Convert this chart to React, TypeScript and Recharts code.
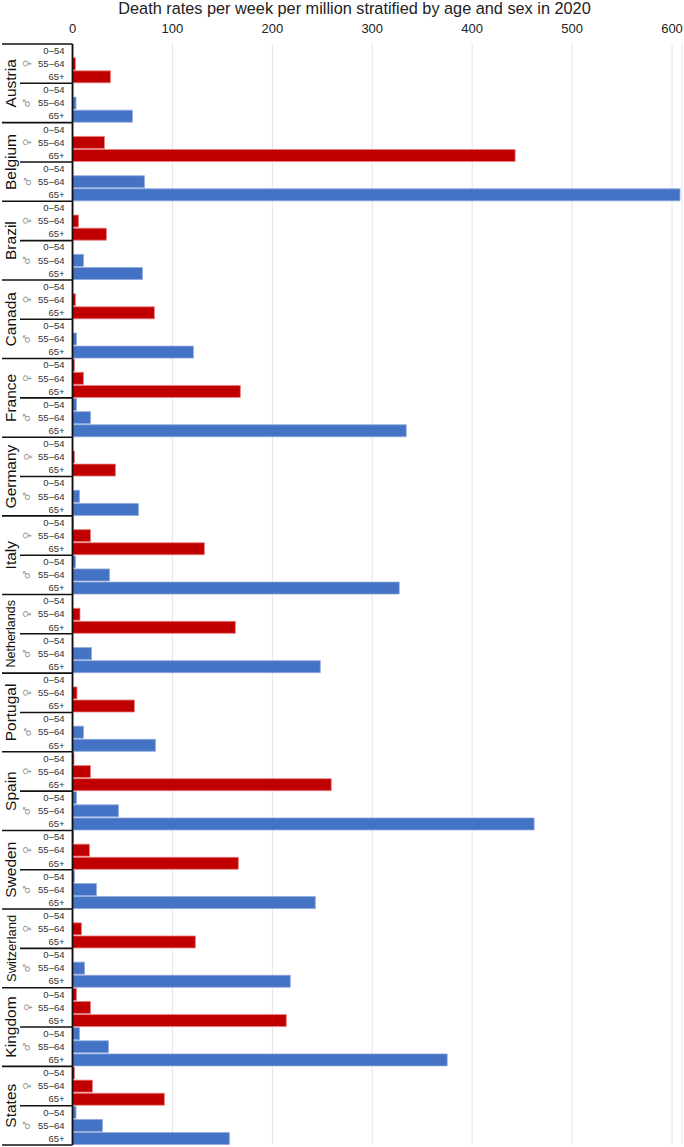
import { BarChart, Bar, Cell, XAxis, YAxis, CartesianGrid } from "recharts";

const COUNTRIES = [
  "Austria", "Belgium", "Brazil", "Canada", "France", "Germany", "Italy",
  "Netherlands", "Portugal", "Spain", "Sweden", "Switzerland", "Kingdom", "States",
];
const AGE_GROUPS = ["0–54", "55–64", "65+"];
const SEXES = ["female", "male"];
const X_TICKS = [0, 100, 200, 300, 400, 500, 600];

// per country: [0-54, 55-64, 65+]
const FEMALE_RATES = [
  [0.3, 3, 38], [0.3, 32, 443], [0.5, 6, 34], [0.3, 3, 82], [2, 11, 168],
  [0.3, 2, 43], [1, 18, 132], [0.3, 7.5, 163], [0.3, 4.5, 62], [1.5, 18, 259],
  [1, 17, 166], [0.3, 9, 123], [4, 18, 214], [2, 20, 92],
];
const MALE_RATES = [
  [0.5, 3.5, 60], [0.5, 72, 608], [0.5, 11, 70], [0.5, 4, 121], [4, 18, 334],
  [0.5, 7, 66], [3, 37, 327], [0.5, 19, 248], [0.5, 11, 83], [4, 46, 462],
  [2, 24, 243], [0.5, 12, 218], [7, 36, 375], [3.5, 30, 157],
];

const RED = "#C00000";
const BLUE = "#4472C4";
const FONT = "'Liberation Sans', Arial, sans-serif";
const ROW_H = 13.11;
const TICK_GAP = 8; // recharts puts the tick this far left of the axis

const rows = COUNTRIES.flatMap((country, c) =>
  SEXES.flatMap((sex) =>
    AGE_GROUPS.map((age, a) => ({
      key: `${country}-${sex}-${age}`,
      age,
      sex,
      value: (sex === "female" ? FEMALE_RATES : MALE_RATES)[c][a],
    })),
  ),
);

function labelSize(country: string) {
  if (country === "Netherlands") return 12.5;
  if (country === "Switzerland") return 13;
  return 15.5;
}

// one tick per row: age label, plus separators, sex symbol and country name where they fall
function RowTick({ x, y, index }: any) {
  const row = rows[index];
  if (!row) return null;
  const inCountry = index % 6;
  const country = COUNTRIES[Math.floor(index / 6)];
  const top = y - ROW_H / 2;
  const axisX = x + TICK_GAP;
  return (
    <g fontFamily={FONT}>
      <text x={x} y={y} dy="0.35em" textAnchor="end" fontSize={9.5} fill="#333">
        {row.age}
      </text>
      {inCountry === 0 && <line x1={2} x2={axisX} y1={top} y2={top} stroke="#111" strokeWidth={1.6} />}
      {inCountry === 3 && <line x1={20} x2={axisX} y1={top} y2={top} stroke="#111" strokeWidth={1.6} />}
      {index === rows.length - 1 && (
        <line x1={2} x2={axisX} y1={y + ROW_H / 2} y2={y + ROW_H / 2} stroke="#111" strokeWidth={1.6} />
      )}
      {index % 3 === 1 && (
        <text
          x={27}
          y={y}
          dy="0.35em"
          textAnchor="middle"
          fontSize={10}
          fill="#999"
          fontFamily="'DejaVu Sans', sans-serif"
          transform={`rotate(-90 27 ${y})`}
        >
          {row.sex === "female" ? "♀" : "♂"}
        </text>
      )}
      {inCountry === 2 && (
        <text
          x={11}
          y={y + ROW_H / 2}
          dy="0.35em"
          textAnchor="middle"
          fontSize={labelSize(country)}
          fill="#111"
          transform={`rotate(-90 11 ${y + ROW_H / 2})`}
        >
          {country}
        </text>
      )}
    </g>
  );
}

export default function App() {
  return (
    <div style={{ position: "absolute", left: 0, top: 0, width: 684, height: 1147, background: "#fff" }}>
      <BarChart
        width={684}
        height={1147}
        data={rows}
        layout="vertical"
        barCategoryGap="5%"
        margin={{ top: 14, right: 2, bottom: 2, left: 0 }}
      >
        <text x={354.5} y={14} textAnchor="middle" fontSize={16.3} fontFamily={FONT} fill="#222">
          Death rates per week per million stratified by age and sex in 2020
        </text>
        <CartesianGrid horizontal={false} stroke="#E4E4E4" />
        <XAxis
          type="number"
          orientation="top"
          domain={[0, 610]}
          ticks={X_TICKS}
          axisLine={false}
          tickLine={false}
          height={30}
          tick={{ fontSize: 13, fill: "#222", fontFamily: FONT, dy: -3 }}
        />
        <YAxis
          type="category"
          dataKey="key"
          width={72.5}
          interval={0}
          tickLine={false}
          axisLine={{ stroke: "#111", strokeWidth: 1.8 }}
          tick={<RowTick />}
        />
        <Bar dataKey="value" isAnimationActive={false} strokeWidth={0.8}>
          {rows.map((row) => (
            <Cell
              key={row.key}
              fill={row.sex === "female" ? RED : BLUE}
              stroke={row.sex === "female" ? "#E88080" : "#8FAADC"}
            />
          ))}
        </Bar>
      </BarChart>
    </div>
  );
}
